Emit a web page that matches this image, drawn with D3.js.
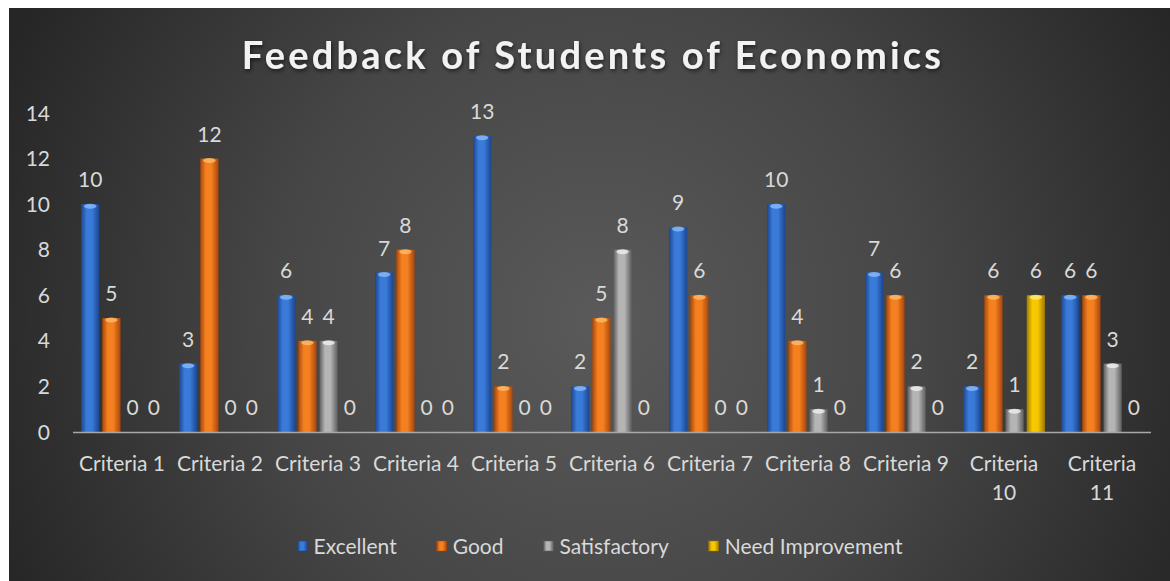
<!DOCTYPE html>
<html lang="en">
<head>
    <title>Feedback of Students of Economics</title>
    <script src="https://d3js.org/d3.v7.min.js"></script>
    <style>
        body {
            margin: 0;
            background: #ffffff;
        }

        text {
            font-family: Lato, "Noto Sans", sans-serif;
        }

        .title {
            font-weight: bold;
            fill: #f2f2f2;
        }

        .tick-label, .cat-label, .legend-label {
            fill: #d9d9d9;
        }

        .value-label {
            fill: #d9d9d9;
        }
    </style>
</head>
<body>
<div id="chart"></div>

<script>
    // data
    var categories = ["Criteria 1", "Criteria 2", "Criteria 3", "Criteria 4", "Criteria 5", "Criteria 6",
        "Criteria 7", "Criteria 8", "Criteria 9", "Criteria 10", "Criteria 11"];
    var seriesNames = ["Excellent", "Good", "Satisfactory", "Need Improvement"];
    var excellent = [10, 3, 6, 7, 13, 2, 9, 10, 7, 2, 6];
    var good = [5, 12, 4, 8, 2, 5, 6, 4, 6, 6, 6];
    var satisfactory = [0, 0, 4, 0, 0, 8, 0, 1, 2, 1, 3];
    var needImprovement = [0, 0, 0, 0, 0, 0, 0, 0, 0, 6, 0];
    var yTicks = [0, 2, 4, 6, 8, 10, 12, 14];

    var seriesValues = [excellent, good, satisfactory, needImprovement];

    var w = 1170;
    var h = 581;
    var fontSize = 21;

    // colours for each series: [dark edge, light middle, cap]
    var colors = {
        "Excellent": ["#1b4590", "#3a7ad8", "#8fc0ff"],
        "Good": ["#a8470a", "#f58020", "#ffc070"],
        "Satisfactory": ["#5e5e5e", "#b5b5b5", "#f4f4f4"],
        "Need Improvement": ["#a07a00", "#f7c800", "#fff080"]
    };

    var svg = d3.select("#chart")
        .append("svg")
        .attr("width", w)
        .attr("height", h);

    var defs = svg.append("defs");

    var bg = defs.append("radialGradient")
        .attr("id", "bg")
        .attr("gradientUnits", "userSpaceOnUse")
        .attr("cx", 600).attr("cy", 320).attr("r", 650);
    bg.append("stop").attr("offset", "0%").attr("stop-color", "#5a5a5a");
    bg.append("stop").attr("offset", "50%").attr("stop-color", "#464646");
    bg.append("stop").attr("offset", "100%").attr("stop-color", "#262626");

    seriesNames.forEach(function(name, i) {
        var g = defs.append("linearGradient")
            .attr("id", "grad" + i)
            .attr("x1", "0%").attr("x2", "100%").attr("y1", "0%").attr("y2", "0%");
        g.append("stop").attr("offset", "0%").attr("stop-color", colors[name][0]);
        g.append("stop").attr("offset", "30%").attr("stop-color", colors[name][1]);
        g.append("stop").attr("offset", "60%").attr("stop-color", colors[name][1]);
        g.append("stop").attr("offset", "100%").attr("stop-color", colors[name][0]);
    });

    var shadow = defs.append("filter").attr("id", "shadow")
        .attr("x", "-10%").attr("y", "-30%").attr("width", "120%").attr("height", "160%");
    shadow.append("feDropShadow")
        .attr("dx", 1).attr("dy", 2).attr("stdDeviation", 2)
        .attr("flood-color", "#000").attr("flood-opacity", 0.6);

    svg.append("rect")
        .attr("x", 9)
        .attr("y", 8)
        .attr("width", w - 9)
        .attr("height", h - 8)
        .attr("fill", "url(#bg)");

    svg.append("text")
        .attr("class", "title")
        .attr("x", 593)
        .attr("y", 69)
        .attr("text-anchor", "middle")
        .attr("font-size", 38)
        .attr("letter-spacing", 3.2)
        .attr("filter", "url(#shadow)")
        .text("Feedback of Students of Economics");

    var x0 = d3.scaleBand()
        .domain(categories)
        .range([73, 1151])
        .padding(0);

    var x1 = d3.scaleBand()
        .domain(seriesNames)
        .range([0, x0.bandwidth()])
        .paddingInner(0.14)
        .paddingOuter(0.38);

    var yScale = d3.scaleLinear()
        .domain([0, 14])
        .range([432, 113]);

    // y tick labels, no gridlines
    svg.append("g")
        .selectAll("text")
        .data(yTicks)
        .enter()
        .append("text")
        .attr("class", "tick-label")
        .attr("x", 50)
        .attr("y", d => yScale(d))
        .attr("dy", "0.36em")
        .attr("text-anchor", "end")
        .attr("font-size", fontSize)
        .text(d => d);

    var rows = [];
    categories.forEach(function(c, ci) {
        seriesNames.forEach(function(s, si) {
            rows.push({ category: c, series: s, si: si, value: seriesValues[si][ci] });
        });
    });

    var bars = svg.append("g").selectAll("g")
        .data(rows)
        .enter()
        .append("g")
        .attr("transform", d => `translate(${x0(d.category) + x1(d.series)}, 0)`);

    bars.filter(d => d.value > 0)
        .append("rect")
        .attr("x", 0)
        .attr("y", d => yScale(d.value))
        .attr("width", x1.bandwidth())
        .attr("height", d => yScale(0) - yScale(d.value))
        .attr("fill", d => "url(#grad" + d.si + ")");

    bars.filter(d => d.value > 0)
        .append("ellipse")
        .attr("cx", x1.bandwidth() / 2)
        .attr("cy", d => yScale(d.value) + 2)
        .attr("rx", x1.bandwidth() / 2 - 3)
        .attr("ry", 2.5)
        .attr("fill", d => colors[d.series][2])
        .attr("opacity", 0.75);

    bars.append("text")
        .attr("class", "value-label")
        .attr("x", x1.bandwidth() / 2)
        .attr("y", d => yScale(d.value) - 17)
        .attr("text-anchor", "middle")
        .attr("font-size", fontSize)
        .text(d => d.value);

    // baseline
    svg.append("line")
        .attr("x1", 73)
        .attr("x2", 1151)
        .attr("y1", yScale(0) + 0.5)
        .attr("y2", yScale(0) + 0.5)
        .attr("stroke", "#a8a8a8")
        .attr("stroke-width", 1.5);

    // category labels, long ones wrap onto two lines
    var catLabels = svg.append("g").selectAll("text")
        .data(categories)
        .enter()
        .append("text")
        .attr("class", "cat-label")
        .attr("text-anchor", "middle")
        .attr("font-size", fontSize)
        .attr("x", d => x0(d) + x0.bandwidth() / 2)
        .attr("y", 471);

    catLabels.each(function(d) {
        var t = d3.select(this);
        if (d.length > 10) {
            var parts = d.split(" ");
            t.append("tspan").attr("x", t.attr("x")).text(parts[0]);
            t.append("tspan").attr("x", t.attr("x")).attr("dy", 29).text(parts[1]);
        } else {
            t.text(d);
        }
    });

    // legend
    var legend = svg.append("g");
    var lx = 0;
    var gap = 40;
    seriesNames.forEach(function(name, i) {
        var item = legend.append("g").attr("transform", `translate(${lx}, 0)`);
        item.append("rect")
            .attr("x", 0)
            .attr("y", -5)
            .attr("width", 10)
            .attr("height", 10)
            .attr("fill", "url(#grad" + i + ")")
            .attr("stroke", colors[name][0])
            .attr("stroke-width", 0.5);
        var t = item.append("text")
            .attr("class", "legend-label")
            .attr("x", 16)
            .attr("dy", "0.36em")
            .attr("font-size", fontSize)
            .text(name);
        lx += 16 + t.node().getComputedTextLength() + gap;
    });
    var legendWidth = lx - gap;
    legend.attr("transform", `translate(${600 - legendWidth / 2}, 546)`);
</script>
</body>
</html>
